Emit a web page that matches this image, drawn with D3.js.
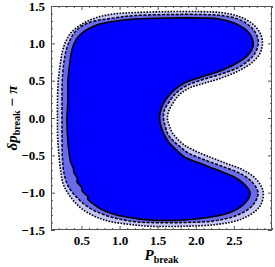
<!DOCTYPE html>
<html>
<head>
<meta charset="utf-8">
<script src="https://cdn.jsdelivr.net/npm/d3@7"></script>
<style>
  body { margin: 0; background: #fff; }
  text { font-family: "Liberation Serif", "DejaVu Serif", serif; font-weight: bold; }
</style>
</head>
<body>
<div id="chart"></div>
<script>
// contour levels, [P_break, delta p - pi]
const innerContour = [
  [0.309, -0.013], [0.322, 0.241], [0.322, 0.496], [0.348, 0.750], [0.374, 0.911],
  [0.427, 1.045], [0.505, 1.138], [0.701, 1.246], [0.962, 1.299], [1.197, 1.326],
  [1.654, 1.339], [2.073, 1.339], [2.308, 1.326], [2.504, 1.272], [2.660, 1.179],
  [2.739, 1.071], [2.752, 0.964], [2.686, 0.844], [2.517, 0.723], [2.282, 0.616],
  [2.073, 0.549], [1.850, 0.469], [1.720, 0.375], [1.602, 0.241], [1.550, 0.134],
  [1.524, 0.013], [1.550, -0.134], [1.602, -0.254], [1.654, -0.335], [1.746, -0.429],
  [1.850, -0.522], [2.046, -0.603], [2.282, -0.696], [2.504, -0.790], [2.634, -0.884],
  [2.713, -1.004], [2.647, -1.138], [2.464, -1.259], [2.203, -1.326], [1.850, -1.366],
  [1.393, -1.366], [1.171, -1.339], [0.962, -1.299], [0.779, -1.232], [0.640, -1.140],
  [0.580, -1.080], [0.590, -1.060], [0.510, -0.980], [0.500, -0.930], [0.440, -0.850],
  [0.445, -0.810], [0.400, -0.730], [0.395, -0.680], [0.360, -0.600], [0.345, -0.520],
  [0.325, -0.362]
];

const middleContour = [
  [0.244, -0.013], [0.244, 0.241], [0.247, 0.496], [0.270, 0.750], [0.300, 0.911],
  [0.350, 1.045], [0.430, 1.170], [0.583, 1.272], [0.962, 1.345], [1.197, 1.372],
  [1.654, 1.386], [2.073, 1.386], [2.334, 1.372], [2.569, 1.320], [2.726, 1.215],
  [2.804, 1.098], [2.817, 0.978], [2.752, 0.830], [2.569, 0.683], [2.308, 0.580],
  [2.086, 0.512], [1.877, 0.432], [1.746, 0.338], [1.641, 0.201], [1.589, 0.107],
  [1.576, 0.013], [1.602, -0.121], [1.641, -0.228], [1.707, -0.308], [1.798, -0.388],
  [1.903, -0.469], [2.086, -0.549], [2.334, -0.643], [2.569, -0.737], [2.726, -0.844],
  [2.817, -1.004], [2.739, -1.179], [2.517, -1.313], [2.229, -1.379], [1.850, -1.400],
  [1.393, -1.400], [1.171, -1.386], [0.962, -1.346], [0.779, -1.290], [0.590, -1.195],
  [0.440, -1.065], [0.335, -0.930], [0.275, -0.763], [0.250, -0.536], [0.245, -0.295]
];

const outerContour = [
  [0.185, -0.013], [0.185, 0.241], [0.195, 0.496], [0.220, 0.710], [0.248, 0.884],
  [0.290, 1.018], [0.365, 1.145], [0.518, 1.265], [0.740, 1.358], [0.962, 1.398],
  [1.197, 1.412], [1.654, 1.425], [2.073, 1.425], [2.334, 1.412], [2.569, 1.360],
  [2.752, 1.255], [2.850, 1.125], [2.875, 0.991], [2.838, 0.857], [2.752, 0.755],
  [2.569, 0.635], [2.321, 0.530], [2.099, 0.462], [1.903, 0.395], [1.772, 0.300],
  [1.681, 0.165], [1.641, 0.080], [1.628, -0.013], [1.654, -0.107], [1.694, -0.201],
  [1.759, -0.281], [1.850, -0.362], [1.968, -0.429], [2.151, -0.509], [2.386, -0.603],
  [2.621, -0.696], [2.791, -0.817], [2.885, -0.991], [2.835, -1.192], [2.608, -1.350],
  [2.282, -1.425], [1.850, -1.450], [1.393, -1.450], [1.132, -1.425], [0.871, -1.385],
  [0.675, -1.318], [0.485, -1.200], [0.355, -1.055], [0.265, -0.897], [0.225, -0.696],
  [0.198, -0.429], [0.186, -0.228]
];

const xTickLabels = [0.5, 1.0, 1.5, 2.0, 2.5];
const yTickLabels = [-1.5, -1.0, -0.5, 0.0, 0.5, 1.0, 1.5];

const width = 275;
const height = 267;
const plotLeft = 51, plotRight = 272, plotTop = 6, plotBottom = 230;

const svg = d3.select("#chart")
    .append("svg")
    .attr("width", width)
    .attr("height", height);

const x = d3.scaleLinear().domain([0.1, 3.0]).range([plotLeft, plotRight]);
const y = d3.scaleLinear().domain([-1.5, 1.5]).range([plotBottom, plotTop]);

const line = d3.line()
    .x(d => x(d[0]))
    .y(d => y(d[1]))
    .curve(d3.curveCatmullRomClosed.alpha(0.5));

// filled bands, outside in
svg.append("path").attr("d", line(outerContour)).attr("fill", "#c4c4f7");
svg.append("path").attr("d", line(middleContour)).attr("fill", "#6a6aee");
svg.append("path").attr("d", line(innerContour)).attr("fill", "#0000ff");

// contour lines
svg.append("path").attr("d", line(outerContour))
    .attr("fill", "none").attr("stroke", "#000")
    .attr("stroke-width", 1.6).attr("stroke-dasharray", "1.6,1.4");
svg.append("path").attr("d", line(middleContour))
    .attr("fill", "none").attr("stroke", "#000")
    .attr("stroke-width", 1.5).attr("stroke-dasharray", "3,1.6");
svg.append("path").attr("d", line(innerContour))
    .attr("fill", "none").attr("stroke", "#000")
    .attr("stroke-width", 1.6);

// frame with ticks on all sides
const frameColor = "#555";
const xMinor = d3.range(0.1, 3.001, 0.1).filter(v => !xTickLabels.some(t => Math.abs(t - v) < 1e-6));
const yMinor = d3.range(-1.5, 1.501, 0.1).filter(v => !yTickLabels.some(t => Math.abs(t - v) < 1e-6));

function styleAxis(g) {
    g.select(".domain").remove();
    g.selectAll(".tick line").attr("stroke", frameColor);
}

svg.append("g").attr("transform", `translate(0,${plotBottom})`)
    .call(d3.axisBottom(x).tickValues(xTickLabels).tickSize(-4).tickPadding(6).tickFormat(d3.format(".1f")))
    .call(styleAxis)
    .selectAll("text").attr("font-size", 13).attr("fill", "#000")
    .style("font-family", "Liberation Serif").style("font-weight", "bold");
svg.append("g").attr("transform", `translate(0,${plotBottom})`)
    .call(d3.axisBottom(x).tickValues(xMinor).tickSize(-2).tickFormat(""))
    .call(styleAxis);
svg.append("g").attr("transform", `translate(0,${plotTop})`)
    .call(d3.axisTop(x).tickValues(xTickLabels).tickSize(-4).tickFormat(""))
    .call(styleAxis);
svg.append("g").attr("transform", `translate(0,${plotTop})`)
    .call(d3.axisTop(x).tickValues(xMinor).tickSize(-2).tickFormat(""))
    .call(styleAxis);

svg.append("g").attr("transform", `translate(${plotLeft},0)`)
    .call(d3.axisLeft(y).tickValues(yTickLabels).tickSize(-4).tickPadding(6).tickFormat(d3.format(".1f")))
    .call(styleAxis)
    .selectAll("text").attr("font-size", 13).attr("fill", "#000")
    .style("font-family", "Liberation Serif").style("font-weight", "bold");
svg.append("g").attr("transform", `translate(${plotLeft},0)`)
    .call(d3.axisLeft(y).tickValues(yMinor).tickSize(-2).tickFormat(""))
    .call(styleAxis);
svg.append("g").attr("transform", `translate(${plotRight},0)`)
    .call(d3.axisRight(y).tickValues(yTickLabels).tickSize(-4).tickFormat(""))
    .call(styleAxis);
svg.append("g").attr("transform", `translate(${plotRight},0)`)
    .call(d3.axisRight(y).tickValues(yMinor).tickSize(-2).tickFormat(""))
    .call(styleAxis);

svg.append("rect")
    .attr("x", plotLeft + 0.5).attr("y", plotTop + 0.5)
    .attr("width", plotRight - plotLeft - 1).attr("height", plotBottom - plotTop - 1)
    .attr("fill", "none").attr("stroke", frameColor).attr("stroke-width", 1);

// axis titles
const xt = svg.append("text")
    .attr("x", (plotLeft + plotRight) / 2).attr("y", 260)
    .attr("text-anchor", "middle").attr("font-size", 15);
xt.append("tspan").attr("font-style", "italic").text("P");
xt.append("tspan").attr("font-size", 10).attr("dy", 3).text("break");

const yt = svg.append("text")
    .attr("transform", `translate(17,${(plotTop + plotBottom) / 2}) rotate(-90)`)
    .attr("text-anchor", "middle").attr("font-size", 15);
yt.append("tspan").attr("font-style", "italic").text("δp");
yt.append("tspan").attr("font-size", 10).attr("dy", 3).text("break");
yt.append("tspan").attr("dy", -3).attr("font-style", "italic").text(" − π");
</script>
</body>
</html>
